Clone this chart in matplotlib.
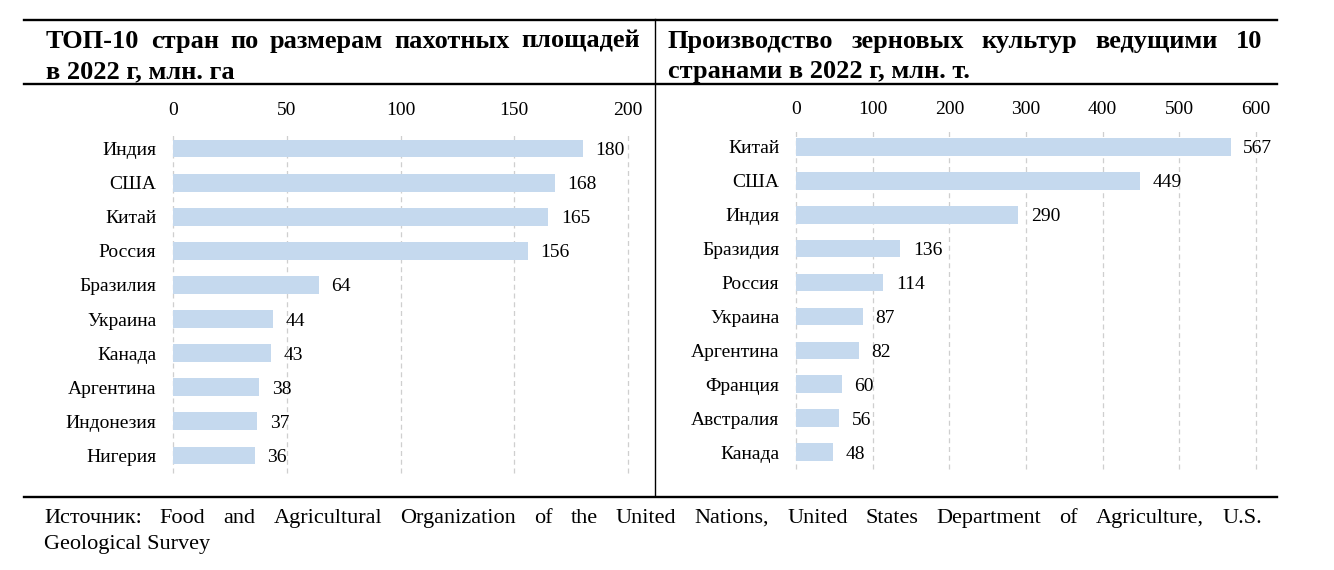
import matplotlib
matplotlib.use("Agg")
import matplotlib.pyplot as plt
from matplotlib.lines import Line2D

# ---- data ----
left_title_1 = "ТОП-10 стран по размерам пахотных площадей"
left_title_2 = "в 2022 г, млн. га"
left_countries = ['Индия', 'США', 'Китай', 'Россия', 'Бразилия', 'Украина',
                  'Канада', 'Аргентина', 'Индонезия', 'Нигерия']
left_values = [180, 168, 165, 156, 64, 44, 43, 38, 37, 36]
left_ticks = [0, 50, 100, 150, 200]

right_title_1 = "Производство зерновых культур ведущими 10"
right_title_2 = "странами в 2022 г, млн. т."
right_countries = ['Китай', 'США', 'Индия', 'Бразидия', 'Россия', 'Украина',
                   'Аргентина', 'Франция', 'Австралия', 'Канада']
right_values = [567, 449, 290, 136, 114, 87, 82, 60, 56, 48]
right_ticks = [0, 100, 200, 300, 400, 500, 600]

source_1 = ("Источник: Food and Agricultural Organization of the United Nations, "
            "United States Department of Agriculture, U.S.")
source_2 = "Geological Survey"

# ---- layout ----
W, H = 1334, 570
plt.rcParams['font.family'] = ['Liberation Serif', 'DejaVu Serif']
fig = plt.figure(figsize=(W / 100, H / 100), dpi=100)
BAR = '#C5D9EE'
GRID = '#CFCFCF'
LBL = 14


def fx(px):
    return px / W


def fy(py):
    return 1 - py / H


def justify(text, x0, x1, y, **kw):
    words = text.split()
    r = fig.canvas.get_renderer()
    objs = [fig.text(0, fy(y), w, va='baseline', ha='left', **kw) for w in words]
    widths = [o.get_window_extent(r).width for o in objs]
    gap = (x1 - x0 - sum(widths)) / (len(words) - 1)
    x = x0
    for o, w in zip(objs, widths):
        o.set_x(fx(x))
        x += w + gap


def panel(x0, x1, y0, y1, cats, vals, ticks):
    ax = fig.add_axes([fx(x0), fy(y1), fx(x1 - x0), (y1 - y0) / H])
    ypos = list(range(len(cats)))
    ax.barh(ypos, vals, height=0.52, color=BAR, zorder=2)
    ax.set_xlim(ticks[0], ticks[-1])
    ax.set_ylim(len(cats) - 0.5, -0.5)
    ax.set_yticks(ypos)
    ax.set_yticklabels(cats, fontsize=LBL)
    ax.set_xticks(ticks)
    ax.set_xticklabels([str(t) for t in ticks], fontsize=LBL)
    ax.xaxis.tick_top()
    ax.tick_params(axis='both', length=0)
    ax.tick_params(axis='x', pad=9)
    ax.tick_params(axis='y', pad=12)
    for s in ax.spines.values():
        s.set_visible(False)
    ax.grid(axis='x', color=GRID, linestyle=(0, (4, 3)), linewidth=0.9, zorder=0)
    for gl in ax.get_xgridlines():
        gl.set_clip_on(False)
    ax.set_axisbelow(True)
    for yv, v in zip(ypos, vals):
        ax.annotate(str(v), (v, yv), xytext=(9, 0), textcoords='offset points',
                    va='center_baseline', ha='left', fontsize=LBL)
    return ax


panel(173, 628, 131.5, 472.5, left_countries, left_values, left_ticks)
panel(796, 1256, 130, 469, right_countries, right_values, right_ticks)

# ---- frame lines ----
lw_thick = 1.7
for y in (19.5, 84, 497):
    fig.add_artist(Line2D([fx(24), fx(1277)], [fy(y), fy(y)], color='black',
                          linewidth=lw_thick))
fig.add_artist(Line2D([fx(655), fx(655)], [fy(19), fy(495)], color='black',
                      linewidth=1.0))

# ---- titles ----
tkw = dict(fontsize=19, fontweight='bold')
justify(left_title_1, 46, 640, 48, **tkw)
fig.text(fx(46), fy(78), left_title_2, va='baseline', ha='left', **tkw)
justify(right_title_1, 668, 1262, 48, **tkw)
fig.text(fx(668), fy(78), right_title_2, va='baseline', ha='left', **tkw)

# ---- source ----
skw = dict(fontsize=16)
justify(source_1, 44, 1262, 523, **skw)
fig.text(fx(44), fy(549), source_2, va='baseline', ha='left', **skw)

fig.savefig('out.png', dpi=100, facecolor='white')
